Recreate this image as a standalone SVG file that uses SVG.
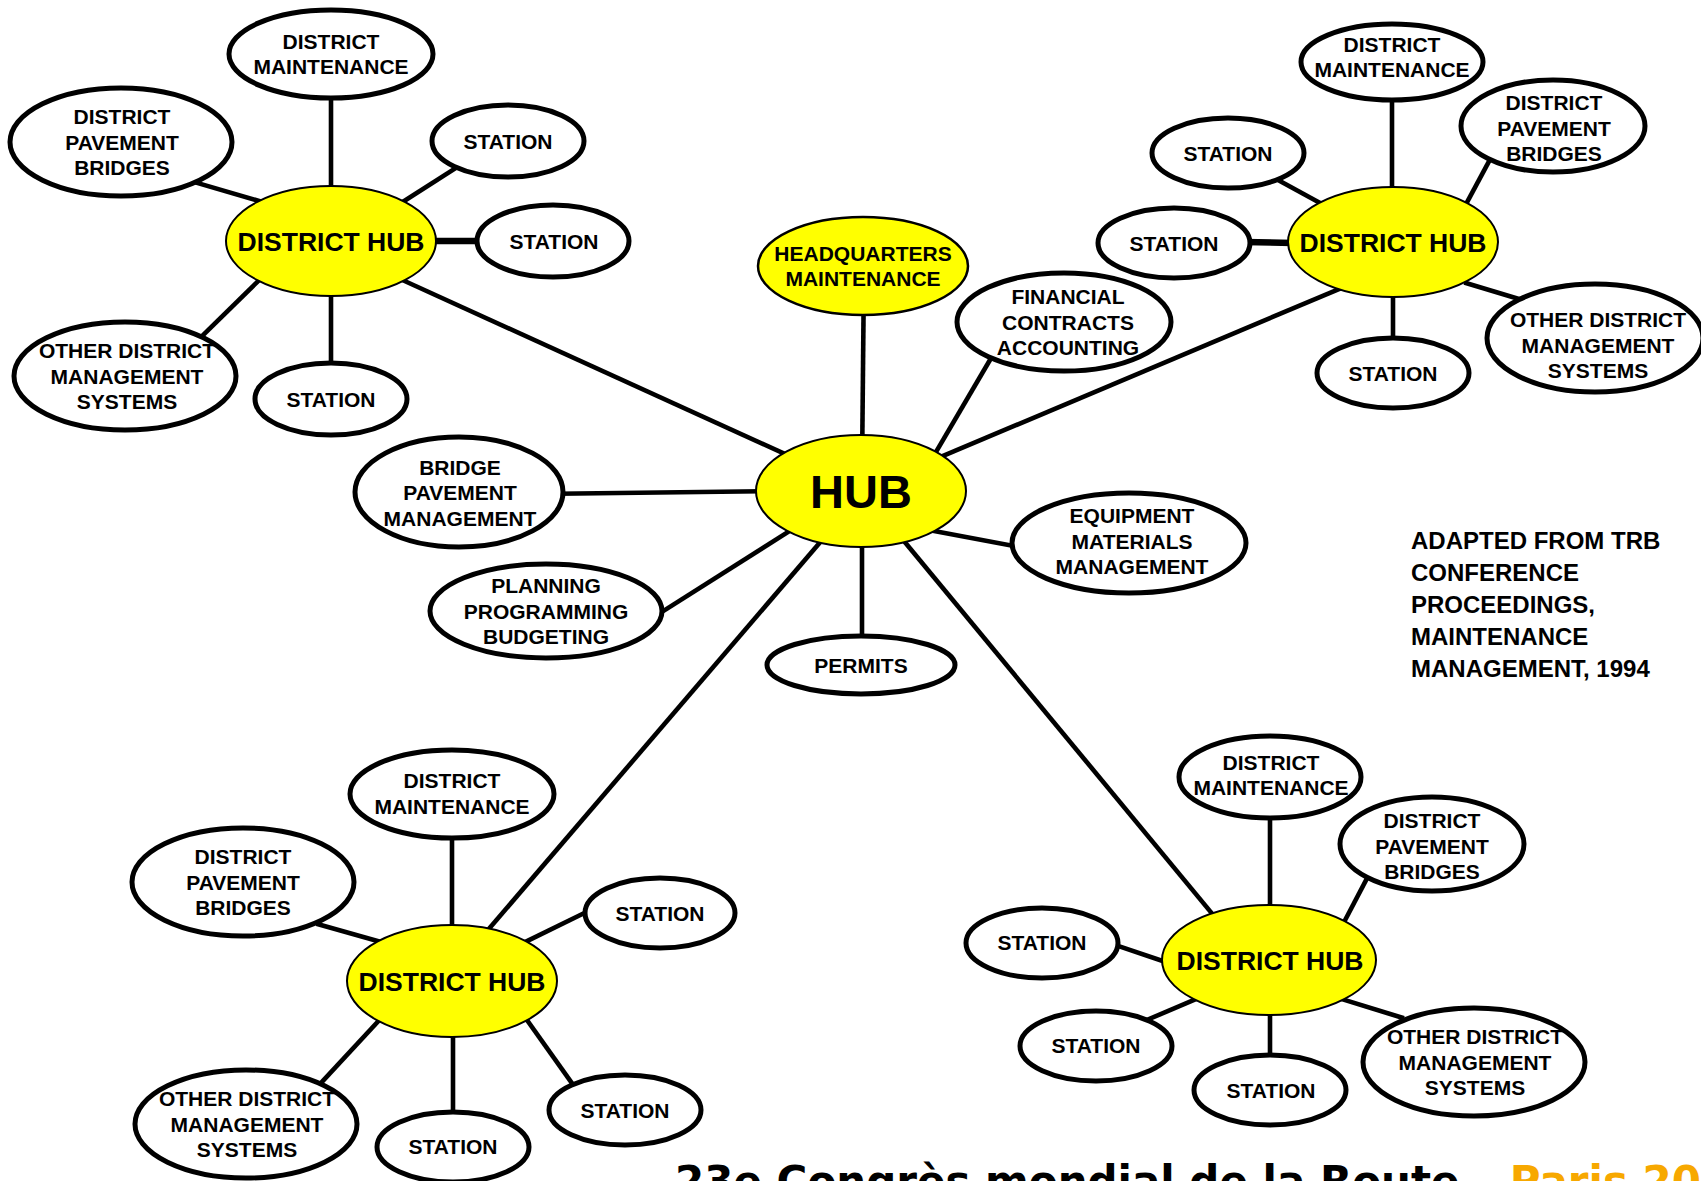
<svg xmlns="http://www.w3.org/2000/svg" width="1701" height="1181" viewBox="0 0 1701 1181">
  <style>
    .bg { fill: #ffffff; }
    .edge { stroke: #000; stroke-width: 4.6; fill: none; }
    .edge.thick { stroke-width: 6.5; }
    .leaf { fill: #ffffff; stroke: #000; stroke-width: 5; }
    .core { fill: #ffff00; stroke: #000; stroke-width: 2; }
    text { font-family: "Liberation Sans", Arial, sans-serif; font-weight: bold; text-anchor: middle; fill: #000; }
    .lbl { font-size: 21px; }
    .dh { font-size: 26.5px; }
    .hub { font-size: 47px; }
    .note { font-size: 24px; text-anchor: start; }
    .foot { font-family: "DejaVu Sans", Verdana, sans-serif; font-size: 42px; text-anchor: start; }
  </style>
  <rect class="bg" x="0" y="0" width="1701" height="1181"/>

  <g id="connectors">
    <!-- north-west district -->
    <line class="edge" x1="331" y1="94" x2="331" y2="190"/>
    <line class="edge" x1="192.7" y1="181.6" x2="264" y2="202.4"/>
    <line class="edge" x1="399.5" y1="204" x2="460.7" y2="164.9"/>
    <line class="edge thick" x1="430" y1="241" x2="484" y2="241"/>
    <line class="edge" x1="262.5" y1="276.8" x2="196.4" y2="341.6"/>
    <line class="edge" x1="331" y1="290" x2="331" y2="369"/>
    <!-- central hub -->
    <line class="edge" x1="399.1" y1="278.5" x2="794.1" y2="458.1"/>
    <line class="edge" x1="863.6" y1="308" x2="862.3" y2="441"/>
    <line class="edge" x1="992.3" y1="356" x2="932.1" y2="458.6"/>
    <line class="edge" x1="1343.1" y1="287.3" x2="938.3" y2="457.9"/>
    <line class="edge" x1="931.4" y1="530.5" x2="1018" y2="546.8"/>
    <line class="edge" x1="903.1" y1="540" x2="1216.6" y2="919.1"/>
    <line class="edge" x1="862" y1="543" x2="862" y2="641"/>
    <line class="edge" x1="822.9" y1="539" x2="484.3" y2="934.3"/>
    <line class="edge" x1="793.7" y1="528.4" x2="658.8" y2="613.9"/>
    <line class="edge" x1="557" y1="493.7" x2="762" y2="491.3"/>
    <!-- north-east district -->
    <line class="edge" x1="1392" y1="95" x2="1392" y2="192"/>
    <line class="edge" x1="1463.9" y1="208.2" x2="1492.2" y2="155.3"/>
    <line class="edge" x1="1274.8" y1="178.3" x2="1323.3" y2="204.7"/>
    <line class="edge thick" x1="1244" y1="242" x2="1293" y2="243"/>
    <line class="edge" x1="1393" y1="292" x2="1393" y2="344"/>
    <line class="edge" x1="1464.2" y1="282.5" x2="1522.3" y2="300"/>
    <!-- south-west district -->
    <line class="edge" x1="452" y1="834" x2="452" y2="931"/>
    <line class="edge" x1="316.4" y1="923.7" x2="385.5" y2="943.2"/>
    <line class="edge" x1="522.9" y1="943.1" x2="589" y2="910.8"/>
    <line class="edge" x1="319.2" y1="1084.9" x2="383.8" y2="1015.3"/>
    <line class="edge" x1="453" y1="1031" x2="453" y2="1118"/>
    <line class="edge" x1="524.8" y1="1017" x2="577.4" y2="1090.8"/>
    <!-- south-east district -->
    <line class="edge" x1="1270" y1="813" x2="1270" y2="910"/>
    <line class="edge" x1="1342.4" y1="925.2" x2="1369.6" y2="873.4"/>
    <line class="edge" x1="1112.7" y1="944.1" x2="1168.6" y2="963"/>
    <line class="edge" x1="1142.2" y1="1022" x2="1198.8" y2="997.8"/>
    <line class="edge" x1="1270" y1="1010" x2="1270" y2="1060"/>
    <line class="edge" x1="1339.5" y1="998.4" x2="1404" y2="1018.3"/>
  </g>

  <!-- central hub and its offices -->
  <g id="hub">
    <ellipse class="core" cx="861" cy="491" rx="105" ry="56"/>
    <text class="hub" x="861" y="508">HUB</text>
  </g>
  <g id="hq-maintenance">
    <ellipse class="core" cx="863" cy="266" rx="105" ry="49" style="stroke-width:2.5"/>
    <text class="lbl" x="863" y="260.75"><tspan x="863">HEADQUARTERS</tspan><tspan x="863" dy="25.5">MAINTENANCE</tspan></text>
  </g>
  <g id="financial">
    <ellipse class="leaf" cx="1064" cy="322" rx="107" ry="49"/>
    <text class="lbl" x="1068" y="304"><tspan x="1068">FINANCIAL</tspan><tspan x="1068" dy="25.5">CONTRACTS</tspan><tspan x="1068" dy="25.5">ACCOUNTING</tspan></text>
  </g>
  <g id="equipment">
    <ellipse class="leaf" cx="1129" cy="543" rx="117" ry="50"/>
    <text class="lbl" x="1132" y="523"><tspan x="1132">EQUIPMENT</tspan><tspan x="1132" dy="25.5">MATERIALS</tspan><tspan x="1132" dy="25.5">MANAGEMENT</tspan></text>
  </g>
  <g id="permits">
    <ellipse class="leaf" cx="861" cy="665" rx="94" ry="29"/>
    <text class="lbl" x="861" y="672.5">PERMITS</text>
  </g>
  <g id="planning">
    <ellipse class="leaf" cx="546" cy="611" rx="116" ry="47"/>
    <text class="lbl" x="546" y="593"><tspan x="546">PLANNING</tspan><tspan x="546" dy="25.5">PROGRAMMING</tspan><tspan x="546" dy="25.5">BUDGETING</tspan></text>
  </g>
  <g id="bridge-pavement">
    <ellipse class="leaf" cx="459" cy="492" rx="104" ry="55"/>
    <text class="lbl" x="460" y="474.5"><tspan x="460">BRIDGE</tspan><tspan x="460" dy="25.5">PAVEMENT</tspan><tspan x="460" dy="25.5">MANAGEMENT</tspan></text>
  </g>

  <!-- north-west district -->
  <g id="nw-hub">
    <ellipse class="core" cx="331" cy="241" rx="105" ry="55"/>
    <text class="dh" x="331" y="250.5">DISTRICT HUB</text>
  </g>
  <g id="nw-maintenance">
    <ellipse class="leaf" cx="331" cy="54" rx="102" ry="44"/>
    <text class="lbl" x="331" y="48.75"><tspan x="331">DISTRICT</tspan><tspan x="331" dy="25.5">MAINTENANCE</tspan></text>
  </g>
  <g id="nw-pavement">
    <ellipse class="leaf" cx="121" cy="142" rx="111" ry="54"/>
    <text class="lbl" x="122" y="124"><tspan x="122">DISTRICT</tspan><tspan x="122" dy="25.5">PAVEMENT</tspan><tspan x="122" dy="25.5">BRIDGES</tspan></text>
  </g>
  <g id="nw-station-1">
    <ellipse class="leaf" cx="508" cy="141" rx="76" ry="36"/>
    <text class="lbl" x="508" y="148.5">STATION</text>
  </g>
  <g id="nw-station-2">
    <ellipse class="leaf" cx="553" cy="241" rx="76" ry="36"/>
    <text class="lbl" x="554" y="248.5">STATION</text>
  </g>
  <g id="nw-other">
    <ellipse class="leaf" cx="125" cy="376" rx="111" ry="54"/>
    <text class="lbl" x="127" y="358"><tspan x="127">OTHER DISTRICT</tspan><tspan x="127" dy="25.5">MANAGEMENT</tspan><tspan x="127" dy="25.5">SYSTEMS</tspan></text>
  </g>
  <g id="nw-station-3">
    <ellipse class="leaf" cx="331" cy="399" rx="76" ry="36"/>
    <text class="lbl" x="331" y="406.5">STATION</text>
  </g>

  <!-- north-east district -->
  <g id="ne-hub">
    <ellipse class="core" cx="1393" cy="242" rx="105" ry="55"/>
    <text class="dh" x="1393" y="251.5">DISTRICT HUB</text>
  </g>
  <g id="ne-maintenance">
    <ellipse class="leaf" cx="1392" cy="62" rx="91" ry="38"/>
    <text class="lbl" x="1392" y="51.75"><tspan x="1392">DISTRICT</tspan><tspan x="1392" dy="25.5">MAINTENANCE</tspan></text>
  </g>
  <g id="ne-pavement">
    <ellipse class="leaf" cx="1553" cy="126" rx="92" ry="46"/>
    <text class="lbl" x="1554" y="110"><tspan x="1554">DISTRICT</tspan><tspan x="1554" dy="25.5">PAVEMENT</tspan><tspan x="1554" dy="25.5">BRIDGES</tspan></text>
  </g>
  <g id="ne-station-1">
    <ellipse class="leaf" cx="1228" cy="153" rx="76" ry="35"/>
    <text class="lbl" x="1228" y="160.5">STATION</text>
  </g>
  <g id="ne-station-2">
    <ellipse class="leaf" cx="1174" cy="243" rx="76" ry="35"/>
    <text class="lbl" x="1174" y="250.5">STATION</text>
  </g>
  <g id="ne-station-3">
    <ellipse class="leaf" cx="1393" cy="373" rx="76" ry="35"/>
    <text class="lbl" x="1393" y="380.5">STATION</text>
  </g>
  <g id="ne-other">
    <ellipse class="leaf" cx="1595" cy="338" rx="108" ry="54"/>
    <text class="lbl" x="1598" y="327"><tspan x="1598">OTHER DISTRICT</tspan><tspan x="1598" dy="25.5">MANAGEMENT</tspan><tspan x="1598" dy="25.5">SYSTEMS</tspan></text>
  </g>

  <!-- south-west district -->
  <g id="sw-hub">
    <ellipse class="core" cx="452" cy="981" rx="105" ry="56"/>
    <text class="dh" x="452" y="990.5">DISTRICT HUB</text>
  </g>
  <g id="sw-maintenance">
    <ellipse class="leaf" cx="452" cy="794" rx="102" ry="44"/>
    <text class="lbl" x="452" y="788"><tspan x="452">DISTRICT</tspan><tspan x="452" dy="25.5">MAINTENANCE</tspan></text>
  </g>
  <g id="sw-pavement">
    <ellipse class="leaf" cx="243" cy="882" rx="111" ry="54"/>
    <text class="lbl" x="243" y="864"><tspan x="243">DISTRICT</tspan><tspan x="243" dy="25.5">PAVEMENT</tspan><tspan x="243" dy="25.5">BRIDGES</tspan></text>
  </g>
  <g id="sw-station-1">
    <ellipse class="leaf" cx="660" cy="913" rx="75" ry="35"/>
    <text class="lbl" x="660" y="920.5">STATION</text>
  </g>
  <g id="sw-other">
    <ellipse class="leaf" cx="246" cy="1124" rx="111" ry="54"/>
    <text class="lbl" x="247" y="1106"><tspan x="247">OTHER DISTRICT</tspan><tspan x="247" dy="25.5">MANAGEMENT</tspan><tspan x="247" dy="25.5">SYSTEMS</tspan></text>
  </g>
  <g id="sw-station-2">
    <ellipse class="leaf" cx="453" cy="1147" rx="76" ry="35"/>
    <text class="lbl" x="453" y="1154">STATION</text>
  </g>
  <g id="sw-station-3">
    <ellipse class="leaf" cx="625" cy="1110" rx="76" ry="35"/>
    <text class="lbl" x="625" y="1117.5">STATION</text>
  </g>

  <!-- south-east district -->
  <g id="se-hub">
    <ellipse class="core" cx="1269" cy="960" rx="107" ry="55"/>
    <text class="dh" x="1270" y="969.5">DISTRICT HUB</text>
  </g>
  <g id="se-maintenance">
    <ellipse class="leaf" cx="1270" cy="777" rx="91" ry="41"/>
    <text class="lbl" x="1271" y="769.7"><tspan x="1271">DISTRICT</tspan><tspan x="1271" dy="25.5">MAINTENANCE</tspan></text>
  </g>
  <g id="se-pavement">
    <ellipse class="leaf" cx="1432" cy="844" rx="92" ry="47"/>
    <text class="lbl" x="1432" y="828"><tspan x="1432">DISTRICT</tspan><tspan x="1432" dy="25.5">PAVEMENT</tspan><tspan x="1432" dy="25.5">BRIDGES</tspan></text>
  </g>
  <g id="se-station-1">
    <ellipse class="leaf" cx="1042" cy="943" rx="76" ry="35"/>
    <text class="lbl" x="1042" y="950">STATION</text>
  </g>
  <g id="se-station-2">
    <ellipse class="leaf" cx="1096" cy="1046" rx="76" ry="35"/>
    <text class="lbl" x="1096" y="1053">STATION</text>
  </g>
  <g id="se-station-3">
    <ellipse class="leaf" cx="1270" cy="1090" rx="76" ry="35"/>
    <text class="lbl" x="1271" y="1097.5">STATION</text>
  </g>
  <g id="se-other">
    <ellipse class="leaf" cx="1474" cy="1062" rx="111" ry="54"/>
    <text class="lbl" x="1475" y="1044"><tspan x="1475">OTHER DISTRICT</tspan><tspan x="1475" dy="25.5">MANAGEMENT</tspan><tspan x="1475" dy="25.5">SYSTEMS</tspan></text>
  </g>

  <!-- source note -->
  <text class="note" x="1411" y="549"><tspan x="1411">ADAPTED FROM TRB</tspan><tspan x="1411" dy="32">CONFERENCE</tspan><tspan x="1411" dy="32">PROCEEDINGS,</tspan><tspan x="1411" dy="32">MAINTENANCE</tspan><tspan x="1411" dy="32">MANAGEMENT, 1994</tspan></text>

  <!-- footer banner, runs past the lower edge -->
  <text class="foot" x="675" y="1196">23e Congrès mondial de la Route – <tspan fill="#f7a800">Paris 2007</tspan></text>
</svg>
